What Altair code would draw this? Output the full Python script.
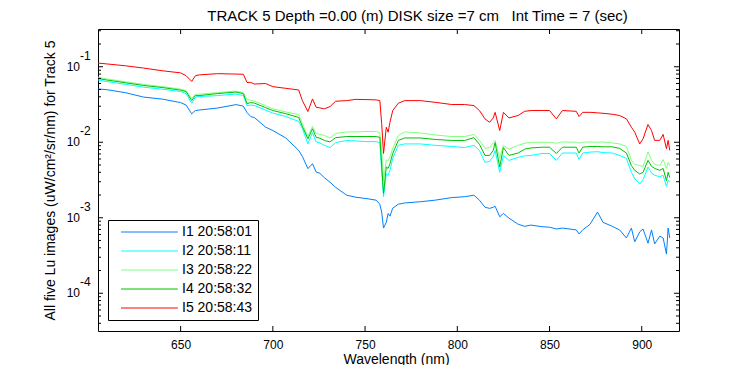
import altair as alt
import pandas as pd

wavelength = [605, 610, 620, 630, 640, 650, 653, 656, 658, 660, 670, 680, 684, 686, 688,
              690, 696, 700, 707, 714, 716, 719, 721.5, 723.5, 725.5, 728, 731, 734, 740, 745,
              751, 756, 758, 759, 760, 761.5, 762.5, 763.5, 765, 768, 771.5, 780, 788, 797, 804,
              809, 812, 815, 817.5, 819.5, 820.5, 823, 825, 828, 833, 836.5, 840, 846, 850, 853.7,
              857, 864.5, 866, 868, 872, 876, 879, 884, 888, 891.7, 894.4, 896.2, 898.9, 900.7, 903.4,
              905.3, 907, 909.8, 911.6, 913.4, 914.3, 915.2]

i1 = [0.0508, 0.0497, 0.0454, 0.0396, 0.0373, 0.0335, 0.031, 0.0238, 0.0263, 0.0267,
      0.0284, 0.0315, 0.0301, 0.0247, 0.0219, 0.0212, 0.0159, 0.0143, 0.0114, 0.0078,
      0.0065, 0.00447, 0.0052, 0.00403, 0.00388, 0.00338, 0.00295, 0.00253, 0.00199, 0.00187,
      0.00179, 0.00171, 0.00151, 0.00119, 0.00073, 0.00087, 0.00114, 0.00105, 0.00134, 0.00151,
      0.00157, 0.00163, 0.00171, 0.00185, 0.0019, 0.00199, 0.00171, 0.00138, 0.00133, 0.00138,
      0.00142, 0.00103, 0.00114, 0.00099, 0.00082, 0.00077, 0.0008, 0.00076, 0.00075, 0.00071,
      0.00073, 0.00069, 0.00061, 0.00069, 0.00082, 0.00119, 0.00087, 0.00077, 0.00069, 0.00054,
      0.00073, 0.00048, 0.00065, 0.00071, 0.00046, 0.00069, 0.00045, 0.00057, 0.00054, 0.00033,
      0.00073, 0.00054]

i2 = [0.067, 0.0637, 0.0586, 0.0536, 0.0505, 0.0469, 0.0441, 0.0328, 0.0397, 0.0403,
      0.0415, 0.0435, 0.0415, 0.0306, 0.0311, 0.0306, 0.0267, 0.0243, 0.0219, 0.0189,
      0.0152, 0.0095, 0.0134, 0.0101, 0.0098, 0.0091, 0.0085, 0.0099, 0.01056, 0.0104,
      0.0102, 0.0102, 0.0099, 0.00425, 0.0019, 0.0038, 0.00365, 0.00425, 0.0061, 0.0091,
      0.0095, 0.0095, 0.0091, 0.0088, 0.0085, 0.0091, 0.0078, 0.0054, 0.0056, 0.0065,
      0.0078, 0.004, 0.0067, 0.00575, 0.0063, 0.0066, 0.0067, 0.0071, 0.0071, 0.00575,
      0.0072, 0.0072, 0.0059, 0.0072, 0.0074, 0.0075, 0.0073, 0.0072, 0.0067, 0.0061,
      0.0040, 0.0033, 0.0028, 0.0032, 0.0047, 0.0039, 0.00365, 0.0035, 0.00365, 0.0026,
      0.0031, 0.003]

i3 = [0.073, 0.069, 0.0633, 0.0583, 0.0547, 0.0505, 0.0483, 0.0378, 0.0433, 0.0433,
      0.0455, 0.0476, 0.0455, 0.0367, 0.0361, 0.035, 0.0306, 0.0277, 0.0252, 0.0232,
      0.0177, 0.0119, 0.0162, 0.0131, 0.0127, 0.0123, 0.0114, 0.0131, 0.0137, 0.0137,
      0.0139, 0.0139, 0.0134, 0.0078, 0.0031, 0.00575, 0.00575, 0.0064, 0.0083, 0.0123,
      0.0137, 0.0133, 0.0125, 0.0119, 0.0119, 0.0127, 0.01056, 0.0083, 0.0085, 0.0099,
      0.01056, 0.0061, 0.0091, 0.0081, 0.0091, 0.0097, 0.01, 0.01, 0.01, 0.0097,
      0.0101, 0.01, 0.0097, 0.01, 0.0101, 0.01, 0.0101, 0.0098, 0.0095, 0.0088,
      0.00575, 0.0051, 0.0049, 0.0048, 0.0074, 0.00575, 0.0051, 0.0049, 0.0059, 0.0045,
      0.0054, 0.0049]

i4 = [0.070, 0.0667, 0.0614, 0.0565, 0.0531, 0.049, 0.0469, 0.0356, 0.0415, 0.0415,
      0.0441, 0.0462, 0.0441, 0.0325, 0.0335, 0.033, 0.0288, 0.0263, 0.0239, 0.0213,
      0.0162, 0.0111, 0.0151, 0.0116, 0.0113, 0.01056, 0.0101, 0.0115, 0.0119, 0.0119,
      0.0119, 0.0119, 0.0116, 0.0049, 0.0021, 0.0047, 0.0045, 0.0052, 0.0071, 0.01056,
      0.0114, 0.0114, 0.0109, 0.01056, 0.01056, 0.0115, 0.0094, 0.0067, 0.0067, 0.0078,
      0.0099, 0.0047, 0.0085, 0.0067, 0.0072, 0.0081, 0.0084, 0.0086, 0.0086, 0.0071,
      0.0086, 0.0086, 0.0072, 0.0086, 0.0088, 0.0088, 0.0087, 0.0087, 0.0083, 0.0072,
      0.0049, 0.00425, 0.0038, 0.0040, 0.00575, 0.0048, 0.0045, 0.00425, 0.0045, 0.0031,
      0.0040, 0.0034]

i5 = [0.112, 0.109, 0.103, 0.096, 0.0885, 0.083, 0.076, 0.064, 0.076, 0.078,
      0.081, 0.080, 0.0795, 0.062, 0.062, 0.059, 0.060, 0.0545, 0.0518, 0.0493,
      0.0356, 0.0255, 0.0375, 0.029, 0.0285, 0.0277, 0.0297, 0.0349, 0.0356, 0.037,
      0.0367, 0.0364, 0.0356, 0.0177, 0.0071, 0.0158, 0.0136, 0.0184, 0.0263, 0.0328,
      0.0356, 0.0356, 0.0338, 0.0316, 0.0316, 0.0306, 0.0263, 0.0204, 0.0184, 0.021,
      0.0249, 0.0143, 0.0249, 0.021, 0.0226, 0.0257, 0.0263, 0.0263, 0.0263, 0.0204,
      0.0263, 0.0257, 0.0219, 0.0249, 0.0249, 0.0245, 0.0242, 0.0235, 0.0226, 0.0204,
      0.0158, 0.0136, 0.0095, 0.0111, 0.0172, 0.0143, 0.0106, 0.0106, 0.0127, 0.0082,
      0.0106, 0.0078]

series_names = ["I1 20:58:01", "I2 20:58:11", "I3 20:58:22", "I4 20:58:32", "I5 20:58:43"]
series_colors = ["#0080FF", "#00FFFF", "#80FF80", "#00C000", "#FF0000"]

x_ticks = [650, 700, 750, 800, 850, 900]
y_major = [1e-1, 1e-2, 1e-3, 1e-4]
y_exponents = ["-1", "-2", "-3", "-4"]
y_minor = [4e-5, 5e-5, 6e-5, 7e-5, 8e-5, 9e-5,
           2e-4, 3e-4, 4e-4, 5e-4, 6e-4, 7e-4, 8e-4, 9e-4,
           2e-3, 3e-3, 4e-3, 5e-3, 6e-3, 7e-3, 8e-3, 9e-3,
           2e-2, 3e-2, 4e-2, 5e-2, 6e-2, 7e-2, 8e-2, 9e-2,
           0.2, 0.3]

FONT = "Liberation Sans"
W, H = 581, 302

rows = []
for name, vals in zip(series_names, [i1, i2, i3, i4, i5]):
    for w, v in zip(wavelength, vals):
        rows.append({"wavelength": w, "value": v, "series": name})
df = pd.DataFrame(rows)

x_scale = alt.Scale(domain=[605.2, 920.2], nice=False, zero=False)
y_scale = alt.Scale(type="log", domain=[10 ** -4.5, 10 ** -0.5], nice=False)

lines = alt.Chart(df).mark_line(strokeWidth=1, clip=True).encode(
    x=alt.X("wavelength:Q", scale=x_scale,
            axis=alt.Axis(values=x_ticks, title="Wavelength (nm)", grid=False, ticks=False,
                          tickSize=0, domain=False, labelPadding=8, labelFontSize=12,
                          labelFont=FONT, labelColor="black", titleFont=FONT, titleFontSize=14,
                          titleFontWeight="normal", titleColor="black", titleX=298, titleY=32,
                          titleBaseline="alphabetic", titleAlign="center", labelFlush=False)),
    y=alt.Y("value:Q", scale=y_scale,
            axis=alt.Axis(labels=False, ticks=False, tickSize=0, domain=False, grid=False,
                          title="All five Lu images (uW/cm²/sr/nm) for Track 5",
                          titleFont=FONT, titleFontSize=14, titleFontWeight="normal",
                          titleColor="black", titleX=-48, titleY=151, titleAngle=270,
                          titleBaseline="middle", titleAlign="center")),
    color=alt.Color("series:N", scale=alt.Scale(domain=series_names, range=series_colors),
                    legend=alt.Legend(title=None, orient="none", legendX=10, legendY=191,
                                      direction="vertical", symbolType="M0,0H14",
                                      symbolSize=66, symbolStrokeWidth=1,
                                      labelFont=FONT, labelFontSize=14, labelColor="black",
                                      labelOffset=54, strokeColor="black", fillColor="white",
                                      padding=5, rowPadding=5, symbolOffset=1, labelLimit=300)),
)

xt = pd.DataFrame({"wavelength": x_ticks})
bottom_ticks = alt.Chart(xt).mark_rule(color="black", strokeWidth=1).encode(
    x=alt.X("wavelength:Q", scale=x_scale), y=alt.value(H), y2=alt.value(H - 5))
top_ticks = alt.Chart(xt).mark_rule(color="black", strokeWidth=1).encode(
    x=alt.X("wavelength:Q", scale=x_scale), y=alt.value(0), y2=alt.value(5))

ymaj = pd.DataFrame({"value": y_major, "exp": y_exponents})
ymin = pd.DataFrame({"value": y_minor})
left_major = alt.Chart(ymaj).mark_rule(color="black").encode(
    y=alt.Y("value:Q", scale=y_scale), x=alt.value(0), x2=alt.value(5))
right_major = alt.Chart(ymaj).mark_rule(color="black").encode(
    y=alt.Y("value:Q", scale=y_scale), x=alt.value(W), x2=alt.value(W - 5))
left_minor = alt.Chart(ymin).mark_rule(color="black").encode(
    y=alt.Y("value:Q", scale=y_scale), x=alt.value(0), x2=alt.value(3))
right_minor = alt.Chart(ymin).mark_rule(color="black").encode(
    y=alt.Y("value:Q", scale=y_scale), x=alt.value(W), x2=alt.value(W - 3))

base_labels = alt.Chart(ymaj).mark_text(font=FONT, fontSize=12, color="black", align="right",
                                         baseline="middle").encode(
    y=alt.Y("value:Q", scale=y_scale), x=alt.value(-18), text=alt.value("10"))
exp_labels = alt.Chart(ymaj).mark_text(font=FONT, fontSize=12, color="black", align="left",
                                        baseline="middle", dy=-11).encode(
    y=alt.Y("value:Q", scale=y_scale), x=alt.value(-18), text="exp:N")

chart = alt.layer(
    lines, bottom_ticks, top_ticks, left_major, right_major, left_minor, right_minor,
    base_labels, exp_labels
).properties(
    width=W, height=H,
    title=alt.TitleParams(text="TRACK 5 Depth =0.00 (m) DISK size =7 cm\u00a0\u00a0\u00a0Int Time = 7 (sec)",
                          font=FONT, fontSize=15, fontWeight="normal", color="black",
                          anchor="middle", frame="group", dx=29, dy=12, offset=5, baseline="alphabetic"),
    padding={"left": 90, "top": 21, "right": 50, "bottom": 34},
    autosize=alt.AutoSizeParams(type="none"),
    background="white",
).configure_view(stroke="black", strokeWidth=1)

chart.save("out.html", embed_options={"renderer": "svg", "actions": False})
